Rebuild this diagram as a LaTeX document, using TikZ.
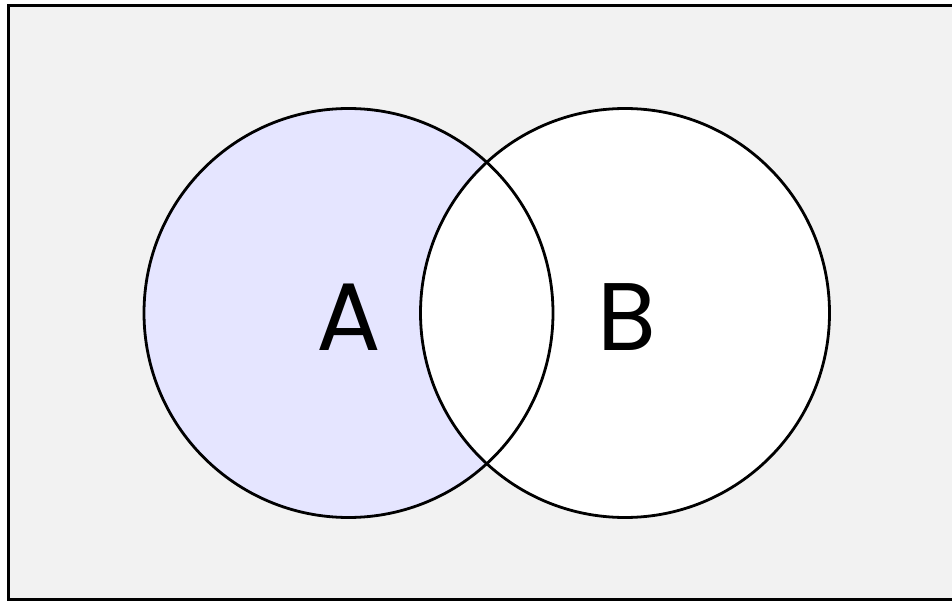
\documentclass[tikz,border=0pt]{standalone}
\usepackage{fontspec}
\setmainfont{Poppins}
\definecolor{bgc}{HTML}{F2F2F2}
\definecolor{afill}{HTML}{E5E5FF}
\begin{document}
\begin{tikzpicture}[x=1pt,y=-1pt,
  setline/.style={draw=black,line width=2.8pt},
  setlabel/.style={inner sep=0pt,font=\fontsize{96}{96}\selectfont}]
\useasboundingbox (0,0) rectangle (952,601);
\draw[fill=bgc,line width=3pt] (8.5,5.5) rectangle (956,599.5);
\coordinate (ca) at (348.5,313);
\coordinate (cb) at (625,313);
\fill[afill] (ca) circle (204.5);
\fill[white] (cb) circle (204.5);
\draw[setline] (ca) circle (204.5);
\draw[setline] (cb) circle (204.5);
\node[setlabel] (la) at (348.5,317) {A};
\node[setlabel] (lb) at (627,317) {B};
\end{tikzpicture}
\end{document}
